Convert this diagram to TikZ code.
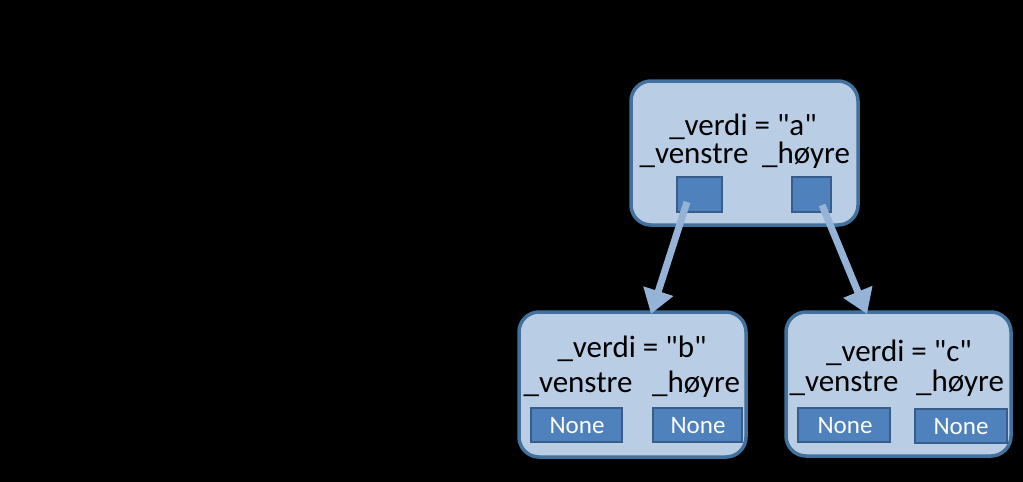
\documentclass[tikz,border=0pt]{standalone}
\usepackage{fontspec}
\setmainfont{Carlito}
\usetikzlibrary{arrows.meta}
\definecolor{boxfill}{HTML}{B9CDE5}
\definecolor{boxline}{HTML}{41719C}
\definecolor{cellfill}{HTML}{4F81BD}
\definecolor{cellline}{HTML}{385D8A}
\definecolor{arrowcol}{HTML}{95B3D7}
\tikzset{
  objbox/.style={draw=boxline, fill=boxfill, line width=3.5pt, rounded corners=20pt},
  cell/.style={draw=cellline, fill=cellfill, line width=2.5pt},
  lbl/.style={anchor=base, inner sep=0pt, font=\fontsize{31}{31}\selectfont, text=black},
  nonetxt/.style={anchor=base, inner sep=0pt, font=\fontsize{25}{25}\selectfont, text=white},
  ptr/.style={draw=arrowcol, line width=7pt, -{Triangle[width=30pt,length=24pt]}}
}
\newcommand{\qq}{\textquotedbl}
\begin{document}
\begin{tikzpicture}[x=1pt,y=-1pt]
\fill[black] (0,0) rectangle (1023,482);
\useasboundingbox (0,0) rectangle (1023,482);
% top node
\draw[objbox] (631,81) rectangle (858,225);
\node[lbl] (va) at (743,135) {\_verdi = \qq a\qq};
\node[lbl] (vla) at (694,163) {\_venstre};
\node[lbl] (hra) at (806,163) {\_høyre};
\draw[cell] (677,177) rectangle (722,212);
\draw[cell] (792,177) rectangle (831,212);
\coordinate (sa) at (687,202);
\coordinate (sb) at (822,205);
% node b
\draw[objbox] (519,312) rectangle (746,457);
\node[lbl] (vb) at (632,357) {\_verdi = \qq b\qq};
\node[lbl] (vlb) at (578,392) {\_venstre};
\node[lbl] (hrb) at (696,392) {\_høyre};
\draw[cell] (531,408) rectangle (622,442);
\draw[cell] (653,408) rectangle (742,442);
\node[nonetxt] (nb1) at (577,433) {None};
\node[nonetxt] (nb2) at (698,433) {None};
% node c
\draw[objbox] (786,312) rectangle (1011,456);
\node[lbl] (vc) at (899,361) {\_verdi = \qq c\qq};
\node[lbl] (vlc) at (844,391) {\_venstre};
\node[lbl] (hrc) at (960,391) {\_høyre};
\draw[cell] (798,408) rectangle (890,442);
\draw[cell] (915,409) rectangle (1007,443);
\node[nonetxt] (nc1) at (845,433) {None};
\node[nonetxt] (nc2) at (961,434) {None};
% arrows
\coordinate (ta) at (651,314);
\coordinate (tb) at (867,314);
\draw[ptr] (sa) -- (ta);
\draw[ptr] (sb) -- (tb);
\end{tikzpicture}
\end{document}
